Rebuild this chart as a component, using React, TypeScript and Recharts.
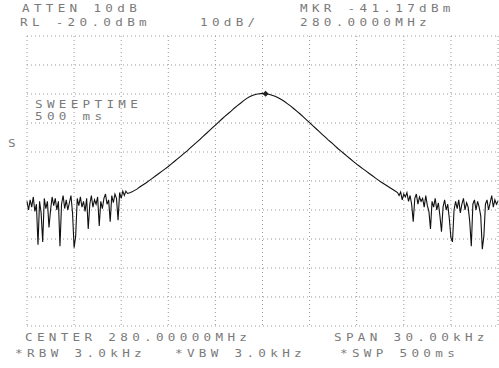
import React from 'react';
import { LineChart, Line, XAxis, YAxis, CartesianGrid, ReferenceDot } from 'recharts';

// sweep bins, kHz offset from the 280 MHz centre
const leftNoiseStartKHz = -15;
const curveStartKHz = -8.6;
const rightNoiseStartKHz = 8.7;
const noiseStepKHz = 0.1;
const curveStepKHz = 0.2;

// noise floor left of the response, dBm
const leftNoiseLevels: number[] = [
  -77, -80, -76.5, -79, -75.5, -80.5, -78, -92, -77, -81,
  -91, -76, -79.5, -77, -86, -80, -75.5, -78.5, -76, -80,
  -77, -92.5, -78, -75, -79.5, -76.5, -80, -77.5, -75, -81,
  -93, -89, -76, -78.5, -75.5, -79, -77, -80.5, -76, -86.5,
  -78, -75, -79, -76.5, -78, -75.5, -85.5, -77, -79.5, -76,
  -74.5, -78, -76.5, -84, -75, -77.5, -74.5, -76, -83.5, -74,
  -76, -73.5, -75, -73.5,
];

// filter response around the carrier, dBm
const curveLevels: number[] = [
  -74.3, -74.0, -73.4, -72.8, -72.0, -71.3, -70.6, -69.8,
  -69.0, -68.2, -67.4, -66.6, -65.8, -65.0, -64.1, -63.2, -62.3, -61.4,
  -60.5, -59.6, -58.6, -57.6, -56.7, -55.7, -54.7, -53.7, -52.7, -51.7,
  -50.7, -49.7, -48.7, -47.7, -46.8, -45.9, -44.9, -44.0, -43.2, -42.3,
  -41.5, -40.9, -40.4, -40.1, -39.9, -39.8, -39.9, -40.1, -40.4, -40.8,
  -41.3, -41.9, -42.6, -43.4, -44.2, -45.1, -46.0, -46.9, -47.9, -48.9,
  -49.9, -50.9, -51.9, -52.9, -53.9, -54.9, -55.9, -56.8, -57.8, -58.8,
  -59.7, -60.6, -61.5, -62.4, -63.3, -64.2, -65.0, -65.8, -66.6, -67.4,
  -68.2, -69.0, -69.8, -70.5, -71.2, -71.9, -72.6, -73.3, -74.0,
];

// noise floor right of the response, dBm
const rightNoiseLevels: number[] = [
  -75, -73.8, -76.5, -74.5, -75.5, -74, -77, -75, -78, -84,
  -76, -74.5, -78, -75.5, -77, -76, -79, -75, -78.5, -80.5,
  -86.5, -77, -79, -76, -80, -77.5, -82, -87.5, -79, -76.5,
  -80, -78, -83, -89.5, -91, -80, -77, -79.5, -76.5, -81,
  -78, -76, -80, -77.5, -79, -84, -92.5, -78, -76.5, -80,
  -77, -79, -82, -93.5, -89, -78, -76.5, -80, -77.5, -75,
  -79, -76.5, -78, -77,
];

const xTicks = [-15, -12, -9, -6, -3, 0, 3, 6, 9, 12, 15];
const yTicks = [-120, -110, -100, -90, -80, -70, -60, -50, -40, -30, -20];

const markerOffset = 0.2;
const markerLevel = -39.9;

const headerLeft = ['ATTEN 10dB', 'RL -20.0dBm'];
const headerMid = '10dB/';
const headerRight = ['MKR -41.17dBm', '280.0000MHz'];
const footerTop = ['CENTER 280.00000MHz', 'SPAN 30.00kHz'];
const footerBottom = ['*RBW 3.0kHz', '*VBW 3.0kHz', '*SWP 500ms'];
const sweepLabel = ['SWEEPTIME', '500 ms'];

const toBins = (levels: number[], start: number, step: number) =>
  levels.map((level, i) => ({ f: +(start + i * step).toFixed(2), level }));

const data = [
  ...toBins(leftNoiseLevels, leftNoiseStartKHz, noiseStepKHz),
  ...toBins(curveLevels, curveStartKHz, curveStepKHz),
  ...toBins(rightNoiseLevels, rightNoiseStartKHz, noiseStepKHz),
];

const Label = ({ x, y, text }: { x: number; y: number; text: string }) => (
  <div
    style={{
      position: 'absolute',
      left: x,
      top: y,
      fontFamily: '"DejaVu Sans Mono", monospace',
      fontSize: 10.5,
      letterSpacing: 3.6,
      color: '#7a7a7a',
      whiteSpace: 'pre',
      transform: 'scaleX(1.2)',
      transformOrigin: 'left top',
      lineHeight: '10px',
    }}
  >
    {text}
  </div>
);

const Diamond = (props: any) => {
  const { cx, cy } = props;
  return (
    <polygon
      points={`${cx},${cy - 3} ${cx + 3},${cy} ${cx},${cy + 3} ${cx - 3},${cy}`}
      fill="#222"
    />
  );
};

export default function App() {
  return (
    <div style={{ position: 'fixed', left: 0, top: 0, width: 499, height: 368, background: '#fff', overflow: 'hidden' }}>
      <LineChart width={499} height={368} data={data} margin={{ top: 36, right: 1, bottom: 42, left: 27 }}>
        <CartesianGrid stroke="#9a9a9a" strokeDasharray="1 3" />
        <XAxis dataKey="f" type="number" domain={[-15, 15]} ticks={xTicks} hide />
        <YAxis type="number" domain={[-120, -20]} ticks={yTicks} hide />
        <Line
          dataKey="level"
          stroke="#111"
          strokeWidth={1.1}
          dot={false}
          isAnimationActive={false}
          type="linear"
        />
        <ReferenceDot x={markerOffset} y={markerLevel} shape={Diamond} />
      </LineChart>
      <Label x={22} y={3} text={headerLeft[0]} />
      <Label x={20} y={17} text={headerLeft[1]} />
      <Label x={200} y={17} text={headerMid} />
      <Label x={300} y={3} text={headerRight[0]} />
      <Label x={300} y={17} text={headerRight[1]} />
      <Label x={35} y={99} text={sweepLabel[0]} />
      <Label x={35} y={111} text={sweepLabel[1]} />
      <Label x={8} y={138} text="S" />
      <Label x={25} y={332} text={footerTop[0]} />
      <Label x={334} y={332} text={footerTop[1]} />
      <Label x={15} y={348} text={footerBottom[0]} />
      <Label x={175} y={348} text={footerBottom[1]} />
      <Label x={340} y={348} text={footerBottom[2]} />
    </div>
  );
}
